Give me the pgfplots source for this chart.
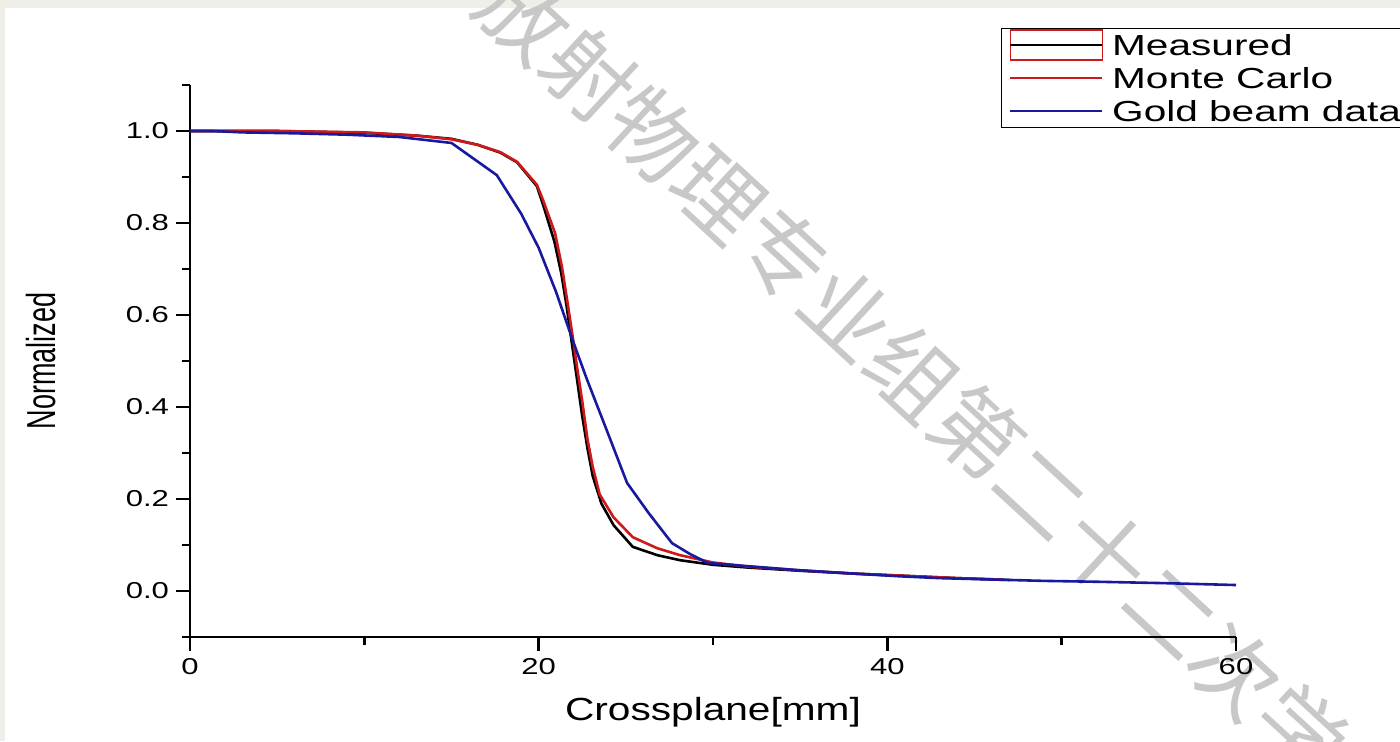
\documentclass[border=0pt]{standalone}
\usepackage{fontspec}
\usepackage{pgfplots}
\pgfplotsset{compat=1.18}
\usetikzlibrary{backgrounds}
\setmainfont{Liberation Sans}
\newfontfamily\tickfam[FakeStretch=1.35]{Liberation Sans}
\newfontfamily\legfam[FakeStretch=1.4]{Liberation Sans}
\newfontfamily\xlabfam[FakeStretch=1.27]{Liberation Sans}
\newfontfamily\cjk{Noto Sans CJK SC}
\definecolor{mcred}{RGB}{205,25,25}
\definecolor{goldblue}{RGB}{25,25,160}
\definecolor{bggray}{RGB}{239,238,231}
\definecolor{wmgray}{RGB}{200,200,200}
\begin{document}
\begin{tikzpicture}
\begin{axis}[
  scale only axis,
  width=523pt, height=276pt,
  xmin=0, xmax=60, ymin=-0.1, ymax=1.1,
  axis x line*=bottom, axis y line*=left,
  xtick={0,20,40,60}, minor xtick={10,30,50},
  ytick={0,0.2,0.4,0.6,0.8,1.0}, minor ytick={-0.1,0.1,0.3,0.5,0.7,0.9,1.1},
  tick align=outside, major tick length=7pt, minor tick length=4pt,
  axis line style={line width=1.2pt, black},
  every tick/.style={line width=1.2pt, black},
  /pgf/number format/assume math mode=true,
  yticklabel style={/pgf/number format/fixed, /pgf/number format/fixed zerofill, /pgf/number format/precision=1},
  tick label style={font=\tickfam\fontsize{11.5}{13}\selectfont},
  xlabel={Crossplane[mm]}, ylabel={\scalebox{1}[1.5]{Normalized}},
  xlabel style={font=\xlabfam\fontsize{16}{18}\selectfont, at={(axis description cs:0.5,-0.1359)}, anchor=center},
  ylabel style={font=\fontsize{13.5}{15}\selectfont, at={(axis description cs:-0.142,0.5)}, anchor=center},
  legend style={at={(axis description cs:0.7753,1.1033)}, anchor=north west, draw=black, line width=0.6pt,
    font=\legfam\fontsize{14.5}{16}\selectfont, inner xsep=4pt, inner ysep=0pt, row sep=0pt,
    nodes={inner sep=1.5pt, text height=12pt, text depth=1.5pt},
    /tikz/every odd column/.append style={column sep=3pt}},
  legend cell align=left,
  legend image code/.code={\draw[#1, line width=0.8pt] (0pt,0pt) -- (46pt,0pt);},
  every axis plot/.append style={line width=1.3pt},
  clip=false,
]
\coordinate (SW) at (rel axis cs:0,0);
\addplot[black, legend image code/.code={\draw[mcred, line width=0.6pt] (0pt,-7.5pt) rectangle (46pt,7.5pt); \draw[##1, line width=0.8pt] (0pt,0pt) -- (46pt,0pt);}] coordinates {
(0,1.0) (5,1.0) (10,0.996) (13,0.99) (15,0.983) (16.5,0.97) (17.8,0.953) (18.76,0.932)
(19.9,0.88) (20.25,0.84) (20.9,0.76) (21.3,0.69) (21.6,0.62) (21.9,0.54) (22.2,0.46)
(22.5,0.38) (22.8,0.31) (23.1,0.25) (23.6,0.19) (24.3,0.143) (25.4,0.096) (26.8,0.078)
(28.1,0.067) (30,0.057) (32,0.051) (35,0.044) (38,0.038) (41,0.033) (44,0.028) (47,0.024)
};
\addlegendentry{Measured}
\addplot[mcred] coordinates {
(0,1.0) (5,1.0) (10,0.997) (13,0.99) (15,0.982) (16.5,0.97) (17.8,0.954) (18.76,0.933)
(19.9,0.883) (20.25,0.85) (20.94,0.778) (21.34,0.704) (21.63,0.633) (21.92,0.561) (22.2,0.487)
(22.49,0.415) (22.8,0.33) (23.1,0.27) (23.5,0.21) (24.3,0.16) (25.4,0.117) (26.8,0.093)
(28.1,0.078) (30,0.062) (32,0.053) (35,0.045) (38,0.038) (41,0.033) (44,0.028) (46.5,0.025)
};
\addlegendentry{Monte Carlo}
\addplot[goldblue] coordinates {
(0,1.0) (1.3,1.0) (3,0.997) (6,0.995) (9,0.992) (12,0.987) (15,0.974) (17.6,0.904)
(19,0.82) (20,0.746) (21,0.65) (22,0.54) (22.78,0.459) (23.9,0.35) (25.07,0.235)
(26.3,0.17) (27.65,0.104) (28.7,0.08) (29.7,0.061) (32,0.054) (35,0.045) (38,0.038)
(40.7,0.032) (43,0.028) (46,0.025) (49,0.022) (52.2,0.02) (56,0.017) (60,0.013)
};
\addlegendentry{Gold beam data}
\end{axis}
\begin{pgfonlayer}{background}
\fill[bggray] ([shift={(-95pt,-52pt)}]SW) rectangle ([shift={(605pt,318.5pt)}]SW);
\fill[white] ([shift={(-92.5pt,-52pt)}]SW) rectangle ([shift={(605pt,314.5pt)}]SW);
\node[rotate=-42.7, anchor=west, text=wmgray, inner sep=0pt, font=\cjk\fontsize{44}{44}\selectfont] at ([shift={(151pt,326pt)}]SW) {放射物理专业组第二十二次学};
\end{pgfonlayer}
\pgfresetboundingbox
\useasboundingbox ([shift={(-95pt,-52pt)}]SW) rectangle ([shift={(605pt,318.5pt)}]SW);
\end{tikzpicture}
\end{document}
